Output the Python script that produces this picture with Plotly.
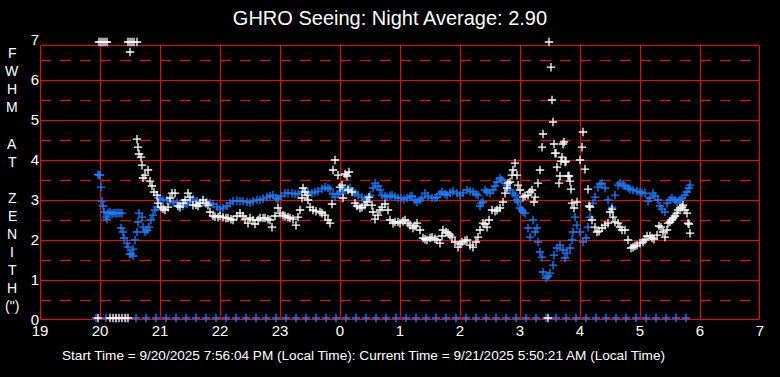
import plotly.graph_objects as go

# ---- data: time in minutes after 19:00 local, FWHM in arcsec ----
hour_ticks = [0, 60, 120, 180, 240, 300, 360, 420, 480, 540, 600, 660, 720]
hour_labels = ["19", "20", "21", "22", "23", "0", "1", "2", "3", "4", "5", "6", "7"]

blue_t = [58, 59, 60, 61, 62, 63, 64, 66, 67, 68, 70, 72, 74, 76, 78, 80, 82, 81, 83, 84, 87, 88, 90, 91, 93, 93,
          95, 97, 98, 99, 102, 103, 105, 107, 109, 111, 113, 115, 117, 118, 120, 123, 127, 130, 133, 137, 140, 143,
          147, 150, 153, 157, 160, 163, 167, 170, 173, 177, 180, 183, 187, 190, 193, 197, 200, 203, 207, 210, 213,
          217, 220, 223, 227, 230, 233, 236, 238, 241, 245, 248, 252, 255, 258, 262, 265, 268, 272, 275, 278, 282,
          285, 288, 290, 293, 295, 298, 300, 303, 305, 308, 310, 313, 315, 318, 322, 325, 327, 330, 333, 335, 338,
          340, 342, 345, 347, 350, 352, 355, 358, 361, 364, 367, 370, 372, 375, 377, 380, 382, 385, 388, 392, 395,
          397, 400, 402, 405, 407, 410, 413, 417, 420, 423, 427, 430, 433, 436, 438, 440, 441, 443, 445, 447, 450,
          453, 455, 457, 460, 462, 465, 467, 470, 473, 475, 477, 478, 480, 482, 483, 485, 488, 490, 493, 495, 497,
          498, 500, 502, 503, 506, 508, 510, 513, 514, 517, 520, 523, 525, 527, 530, 532, 533, 535, 537, 540, 543,
          546, 548, 550, 553, 555, 558, 560, 562, 565, 568, 572, 575, 578, 580, 583, 585, 588, 590, 593, 597, 600,
          602, 605, 608, 610, 613, 615, 618, 620, 622, 625, 627, 630, 632, 635, 637, 640, 642, 645, 647, 649, 650]
blue_v = [3.64, 3.62, 3.62, 3.32, 2.97, 2.85, 2.70, 2.57, 2.52, 2.67, 2.70, 2.65, 2.67, 2.67, 2.68, 2.67, 2.67, 2.30,
          2.20, 2.05, 1.92, 1.82, 1.65, 1.65, 1.60, 1.77, 2.00, 2.20, 2.45, 2.67, 2.57, 2.32, 2.20, 2.25, 2.32, 2.50,
          2.62, 2.75, 2.83, 3.05, 3.02, 3.00, 3.00, 2.97, 2.95, 2.93, 2.90, 2.85, 2.90, 2.95, 3.02, 2.97, 2.93, 2.93,
          2.95, 2.92, 2.90, 2.83, 2.77, 2.80, 2.85, 2.92, 2.97, 2.98, 2.97, 2.97, 2.95, 2.93, 2.97, 3.00, 3.00, 3.03,
          3.07, 3.10, 3.12, 3.05, 3.02, 3.10, 3.17, 3.17, 3.17, 3.15, 3.15, 3.20, 3.22, 3.20, 3.17, 3.20, 3.22, 3.28,
          3.32, 3.30, 3.27, 3.15, 3.07, 3.15, 3.20, 3.22, 3.25, 3.28, 3.30, 3.22, 3.17, 3.12, 3.07, 3.02, 3.00, 3.12,
          3.30, 3.42, 3.35, 3.25, 3.12, 3.10, 3.07, 3.10, 3.12, 3.08, 3.05, 3.05, 3.02, 3.05, 3.08, 3.10, 3.00, 2.95,
          3.00, 3.05, 3.17, 3.10, 3.05, 3.05, 3.07, 3.15, 3.20, 3.15, 3.12, 3.18, 3.22, 3.17, 3.12, 3.18, 3.25, 3.22,
          3.20, 3.15, 3.12, 2.85, 2.92, 2.95, 3.25, 3.20, 3.17, 3.25, 3.35, 3.45, 3.55, 3.50, 3.42, 3.37, 3.25, 3.17,
          3.12, 3.00, 2.95, 2.80, 2.75, 2.70, 2.67, 2.30, 2.07, 2.50, 2.20, 2.30, 1.95, 1.70, 1.57, 1.20, 1.05, 1.10,
          1.17, 1.37, 1.62, 1.80, 1.87, 1.75, 1.55, 1.67, 1.80, 2.00, 2.20, 2.57, 2.37, 2.20, 1.95, 2.05, 2.32, 2.57,
          2.92, 3.07, 3.32, 3.40, 3.42, 3.30, 3.00, 2.82, 3.12, 3.37, 3.42, 3.37, 3.35, 3.30, 3.27, 3.25, 3.22, 3.20,
          3.17, 3.17, 2.97, 3.05, 3.17, 3.10, 3.00, 2.85, 2.77, 2.70, 2.92, 3.00, 3.05, 3.00, 2.95, 3.00, 3.05, 3.12,
          3.20, 3.30, 3.37]

white_t = [97, 98, 99, 101, 102, 103, 105, 108, 110, 112, 114, 117, 118, 121, 123, 125, 128, 130, 132, 135, 138, 140,
           143, 145, 148, 150, 153, 156, 158, 160, 163, 166, 168, 170, 173, 175, 178, 180, 183, 186, 188, 191, 193,
           197, 200, 203, 205, 208, 210, 213, 215, 218, 220, 223, 225, 228, 230, 232, 235, 238, 240, 243, 245, 248,
           250, 253, 256, 258, 260, 262, 263, 265, 267, 268, 270, 273, 276, 280, 282, 285, 288, 290, 292, 293, 295,
           298, 300, 302, 303, 305, 307, 308, 309, 312, 315, 317, 320, 322, 325, 327, 329, 332, 333, 335, 338, 340,
           342, 345, 348, 350, 353, 355, 358, 360, 363, 365, 368, 370, 373, 375, 377, 380, 383, 385, 387, 390, 392,
           395, 397, 400, 402, 403, 406, 408, 410, 412, 415, 418, 420, 422, 425, 427, 430, 433, 436, 438, 440, 443,
           445, 447, 449, 452, 455, 457, 460, 463, 465, 467, 468, 470, 472, 473, 475, 477, 478, 480, 483, 485, 488,
           490, 492, 494, 495, 498, 500, 502, 503, 509, 511, 512, 513, 514, 515, 516, 517, 519, 520, 521, 522, 523,
           524, 525, 526, 528, 529, 530, 531, 532, 534, 537, 540, 542, 543, 545, 548, 549, 550, 552, 555, 557, 559,
           562, 565, 568, 570, 572, 573, 575, 578, 580, 582, 585, 588, 591, 593, 595, 597, 600, 603, 605, 607, 610,
           612, 614, 617, 619, 621, 623, 625, 627, 628, 630, 632, 633, 635, 637, 638, 640, 642, 643, 645, 647, 648,
           649, 650]
white_v = [4.52, 4.32, 4.15, 4.07, 3.87, 3.55, 3.62, 3.75, 3.47, 3.35, 3.20, 3.12, 2.92, 2.82, 2.78, 2.75, 2.82, 3.05,
           3.17, 3.17, 2.85, 2.82, 2.92, 3.00, 3.17, 3.07, 2.87, 2.88, 2.85, 2.92, 3.00, 2.92, 2.87, 2.70, 2.60, 2.58,
           2.57, 2.60, 2.57, 2.55, 2.55, 2.52, 2.50, 2.60, 2.67, 2.60, 2.52, 2.42, 2.55, 2.50, 2.40, 2.50, 2.55, 2.55,
           2.55, 2.52, 2.50, 2.32, 2.60, 2.80, 2.67, 2.62, 2.60, 2.57, 2.55, 2.52, 2.37, 2.57, 2.75, 3.05, 3.30, 3.20,
           3.12, 3.00, 2.82, 2.75, 2.72, 2.70, 2.67, 2.62, 2.50, 2.42, 2.90, 3.75, 4.00, 3.62, 3.32, 3.37, 3.05, 3.65,
           3.60, 3.25, 3.70, 3.20, 2.92, 2.85, 2.80, 2.82, 2.87, 2.95, 3.07, 2.87, 2.70, 2.52, 2.62, 2.75, 2.82, 2.90,
           2.75, 2.50, 2.42, 2.45, 2.45, 2.42, 2.47, 2.50, 2.42, 2.37, 2.30, 2.35, 2.42, 2.25, 2.05, 2.02, 2.00, 2.05,
           2.07, 2.03, 2.00, 1.92, 2.10, 2.25, 2.20, 2.17, 2.12, 2.07, 1.95, 1.82, 1.90, 1.95, 1.98, 2.00, 1.87, 1.82,
           1.95, 2.07, 2.25, 2.42, 2.40, 2.32, 2.50, 2.75, 2.72, 2.75, 2.80, 2.95, 3.17, 3.30, 3.42, 3.45, 3.62, 3.75,
           3.92, 3.62, 3.37, 3.25, 3.07, 3.10, 3.12, 3.20, 3.25, 2.95, 3.07, 3.42, 3.75, 4.32, 4.65, 6.95, 6.32, 5.50,
           4.95, 4.40, 4.17, 4.17, 3.82, 3.42, 3.60, 3.97, 4.07, 4.40, 4.45, 3.95, 3.97, 3.60, 3.60, 3.47, 3.27, 2.92,
           2.80, 2.95, 4.00, 4.32, 4.70, 3.77, 3.27, 2.85, 2.82, 2.50, 2.32, 2.20, 2.22, 2.30, 2.37, 2.42, 2.70, 2.77,
           2.57, 2.45, 2.42, 2.32, 2.25, 2.25, 2.00, 1.80, 1.82, 1.85, 1.87, 1.92, 1.95, 2.00, 2.10, 2.10, 2.05, 2.02,
           2.12, 2.35, 2.32, 2.20, 2.07, 2.25, 2.42, 2.45, 2.50, 2.55, 2.60, 2.67, 2.75, 2.80, 2.82, 2.87, 2.75, 2.67,
           2.42, 2.40, 2.17]

# readings pinned at the top of the scale (off-scale)
white_high_t = [59, 61, 63, 65, 67, 88, 90, 92, 94, 97, 90]
white_high_v = [6.95, 6.95, 6.95, 6.95, 6.95, 6.95, 6.95, 6.95, 6.95, 6.95, 6.70]

# zero readings
white_zero_t = [58, 70, 73, 76, 79, 82, 85, 88, 508]
white_zero_v = [0.05, 0.05, 0.05, 0.05, 0.05, 0.05, 0.05, 0.05, 0.05]
blue_zero_t = [56, 66, 76, 86, 96, 106, 116, 126, 136, 146, 156, 166, 176, 186, 196, 206, 216, 226, 236, 246,
               256, 266, 276, 286, 296, 306, 316, 326, 336, 346, 356, 366, 376, 386, 396, 406, 416, 426, 436, 446,
               456, 466, 476, 486, 496, 506, 516, 526, 536, 546, 556, 566, 576, 586, 596, 606, 616, 626, 636, 646]
blue_zero_v = [0.05] * len(blue_zero_t)

y_ticks = [0, 1, 2, 3, 4, 5, 6, 7]
solid_levels = [1, 2, 3, 4, 5, 6]
dash_levels = [0.5, 1.5, 2.5, 3.5, 4.5, 5.5, 6.5]
frame_top = 6.875
y_axis_letters = ["F", "W", "H", "M", "", "A", "T", "", "Z", "E", "N", "I", "T", "H", "(\")"]

BLUE = "#1E7EFF"
RED = "#FF0000"
NARROW = "Liberation Sans Narrow, Arial Narrow, sans-serif"
SANS = "Liberation Sans, Arial, sans-serif"

# half-pixel nudges so 1px red rules land on whole pixels (40 px per unit, 1 px per minute)
HY = 0.5 / 40
HX = 0.5


def cross_trace(t, v, color, size=6):
    return go.Scatter(x=t, y=v, mode="markers", cliponaxis=False, hoverinfo="skip",
                      marker=dict(symbol="cross-thin", size=size, color=color,
                                  line=dict(color=color, width=1.3)))


fig = go.Figure()
fig.add_trace(cross_trace(blue_zero_t, blue_zero_v, BLUE))
fig.add_trace(cross_trace(white_zero_t, white_zero_v, "white"))
fig.add_trace(cross_trace(blue_t, blue_v, BLUE))
fig.add_trace(cross_trace(white_t, white_v, "white"))
fig.add_trace(cross_trace(white_high_t, white_high_v, "white"))

shapes = []
for lv in solid_levels:
    shapes.append(dict(type="line", xref="x", yref="y", x0=0, x1=720, y0=lv - HY, y1=lv - HY,
                       line=dict(color=RED, width=1), layer="below"))
for lv in dash_levels:
    shapes.append(dict(type="line", xref="x", yref="y", x0=0, x1=720, y0=lv - HY, y1=lv - HY,
                       line=dict(color=RED, width=1, dash="11px,9px"), layer="below"))
for t in hour_ticks[1:-1]:
    shapes.append(dict(type="line", xref="x", yref="y", x0=t + HX, x1=t + HX, y0=0, y1=frame_top,
                       line=dict(color=RED, width=1), layer="below"))
shapes.append(dict(type="rect", xref="x", yref="y", x0=HX, x1=720 - HX, y0=HY, y1=frame_top - HY,
                   line=dict(color=RED, width=1), layer="below"))

annotations = []
for i, ch in enumerate(y_axis_letters):
    if not ch:
        continue
    y_px = 53 + i * 18.1
    annotations.append(dict(text=ch, xref="paper", yref="paper", x=(12 - 40) / 720,
                            y=(320 - y_px) / 280, xanchor="center", yanchor="middle",
                            showarrow=False, font=dict(family=SANS, size=14, color="white")))
annotations.append(dict(
    text="Start Time = 9/20/2025 7:56:04 PM (Local Time): Current Time = 9/21/2025 5:50:21 AM (Local Time)",
    xref="paper", yref="paper", x=(363 - 40) / 720, y=(320 - 355) / 280,
    xanchor="center", yanchor="middle", showarrow=False,
    font=dict(family=NARROW, size=13.6, color="white")))

fig.update_layout(
    width=780, height=377,
    margin=dict(l=40, r=20, t=40, b=57, autoexpand=False),
    paper_bgcolor="black", plot_bgcolor="black",
    showlegend=False,
    hovermode=False,
    shapes=shapes,
    annotations=annotations,
    title=dict(text="GHRO Seeing: Night Average: 2.90", x=0.5, xanchor="center",
               y=1 - 18 / 377, yanchor="middle", yref="container",
               font=dict(family=SANS, size=20, color="white")),
    xaxis=dict(range=[0, 720], tickvals=hour_ticks, ticktext=hour_labels, showgrid=False,
               zeroline=False, showline=False, ticks="", automargin=False, fixedrange=True,
               tickfont=dict(family=NARROW, size=15, color="white")),
    yaxis=dict(range=[0, 7], tickvals=y_ticks, showgrid=False, zeroline=False, showline=False,
               ticks="", automargin=False, fixedrange=True,
               tickfont=dict(family=NARROW, size=15, color="white")),
)

fig.write_html("out.html", config={"displayModeBar": False},
               post_script="document.body.style.margin='0px';document.body.style.background='black';")
